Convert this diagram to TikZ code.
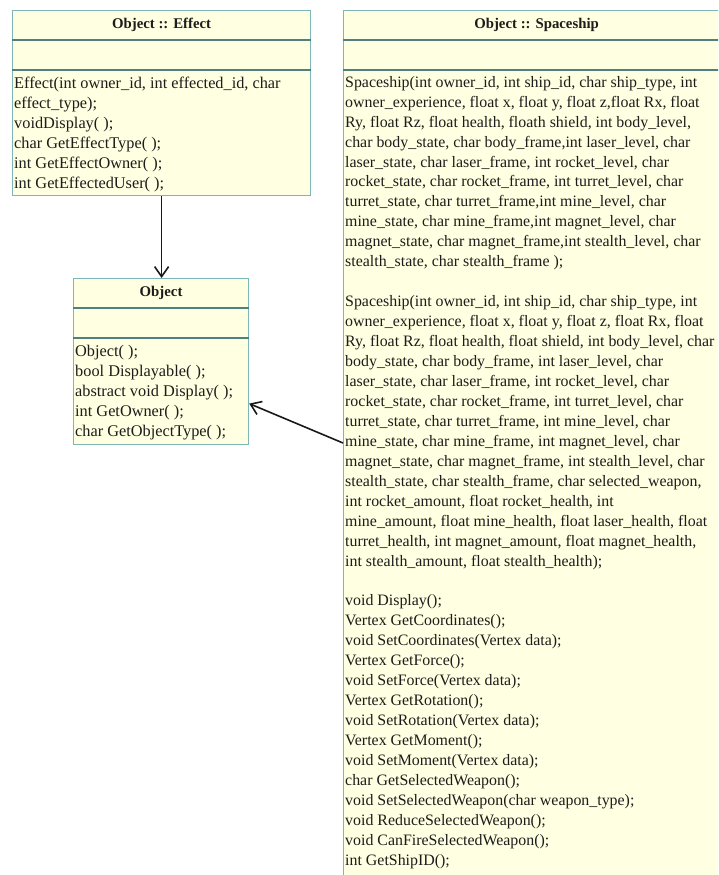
\documentclass[tikz,border=0pt]{standalone}
\usepackage{fontspec}
\setmainfont{Liberation Serif}
\usetikzlibrary{arrows.meta}
\definecolor{boxfill}{RGB}{255,255,225}
\definecolor{boxedge}{RGB}{125,182,182}
\definecolor{divline}{RGB}{78,128,128}
\definecolor{txt}{RGB}{28,28,28}
\tikzset{
 umlbox/.style={draw=boxedge, fill=boxfill, line width=1.2pt, inner sep=0pt, anchor=north west},
 divider/.style={draw=divline, line width=2.6pt},
 titletext/.style={font=\fontsize{14.8}{17}\selectfont\bfseries, text=txt, inner sep=0pt},
 bodytext/.style={font=\fontsize{16.3}{19.95}\selectfont, text=txt, align=left, inner sep=0pt, anchor=north west},
 shiptext/.style={bodytext, font=\fontsize{15.9}{19.95}\selectfont},
 inherit/.style={draw=black!90, line width=1.6pt, -{Straight Barb[length=10pt,width=14pt,line width=1.6pt]}}
}
\begin{document}
\begin{tikzpicture}[x=1pt,y=-1pt]
\useasboundingbox (0,0) rectangle (718,875);
\fill[white] (0,0) rectangle (718,875);
\begin{scope}
\clip (0,0) rectangle (718,875);
% Effect box
\node[umlbox, minimum width=298pt, minimum height=185pt] (effect) at (12,10) {};
\draw[divider] ([yshift=-30pt]effect.north west) -- ([yshift=-30pt]effect.north east);
\draw[divider] ([yshift=-60pt]effect.north west) -- ([yshift=-60pt]effect.north east);
\node[titletext] (effecttitle) at ([yshift=-15pt]effect.north) {Object :: Effect};
\node[bodytext] (effectops) at ([xshift=2pt,yshift=-67pt]effect.north west) {%
Effect(int owner\_id, int effected\_id, char\\
effect\_type);\\
voidDisplay( );\\
char GetEffectType( );\\
int GetEffectOwner( );\\
int GetEffectedUser( );};
% Object box
\node[umlbox, minimum width=175pt, minimum height=166pt] (object) at (73,278) {};
\draw[divider] ([yshift=-30pt]object.north west) -- ([yshift=-30pt]object.north east);
\draw[divider] ([yshift=-60pt]object.north west) -- ([yshift=-60pt]object.north east);
\node[titletext] (objecttitle) at ([yshift=-15pt]object.north) {Object};
\node[bodytext] (objectops) at ([xshift=2pt,yshift=-67pt]object.north west) {%
Object( );\\
bool Displayable( );\\
abstract void Display( );\\
int GetOwner( );\\
char GetObjectType( );};
% Spaceship box
\node[umlbox, minimum width=386pt, minimum height=885pt] (ship) at (343,10) {};
\draw[divider] ([yshift=-30pt]ship.north west) -- ([yshift=-30pt]ship.north east);
\draw[divider] ([yshift=-60pt]ship.north west) -- ([yshift=-60pt]ship.north east);
\node[titletext] (shiptitle) at ([yshift=-15pt]ship.north) {Object :: Spaceship};
\node[shiptext] (shipops) at ([xshift=2pt,yshift=-66pt]ship.north west) {%
Spaceship(int owner\_id, int ship\_id, char ship\_type, int\\
owner\_experience, float x, float y, float z,float Rx, float\\
Ry, float Rz, float health, floath shield, int body\_level,\\
char body\_state, char body\_frame,int laser\_level, char\\
laser\_state, char laser\_frame, int rocket\_level, char\\
rocket\_state, char rocket\_frame, int turret\_level, char\\
turret\_state, char turret\_frame,int mine\_level, char\\
mine\_state, char mine\_frame,int magnet\_level, char\\
magnet\_state, char magnet\_frame,int stealth\_level, char\\
stealth\_state, char stealth\_frame );\\[19.95pt]
Spaceship(int owner\_id, int ship\_id, char ship\_type, int\\
owner\_experience, float x, float y, float z, float Rx, float\\
Ry, float Rz, float health, float shield, int body\_level, char\\
body\_state, char body\_frame, int laser\_level, char\\
laser\_state, char laser\_frame, int rocket\_level, char\\
rocket\_state, char rocket\_frame, int turret\_level, char\\
turret\_state, char turret\_frame, int mine\_level, char\\
mine\_state, char mine\_frame, int magnet\_level, char\\
magnet\_state, char magnet\_frame, int stealth\_level, char\\
stealth\_state, char stealth\_frame, char selected\_weapon,\\
int rocket\_amount, float rocket\_health, int\\
mine\_amount, float mine\_health, float laser\_health, float\\
turret\_health, int magnet\_amount, float magnet\_health,\\
int stealth\_amount, float stealth\_health);\\[19.95pt]
void Display();\\
Vertex GetCoordinates();\\
void SetCoordinates(Vertex data);\\
Vertex GetForce();\\
void SetForce(Vertex data);\\
Vertex GetRotation();\\
void SetRotation(Vertex data);\\
Vertex GetMoment();\\
void SetMoment(Vertex data);\\
char GetSelectedWeapon();\\
void SetSelectedWeapon(char weapon\_type);\\
void ReduceSelectedWeapon();\\
void CanFireSelectedWeapon();\\
int GetShipID();};
% connectors
\draw[inherit] (effect.south) -- (effect.south |- object.north);
\draw[inherit] ([yshift=-433pt]ship.north west) -- ([yshift=-42pt]object.east);
\end{scope}
\end{tikzpicture}
\end{document}
